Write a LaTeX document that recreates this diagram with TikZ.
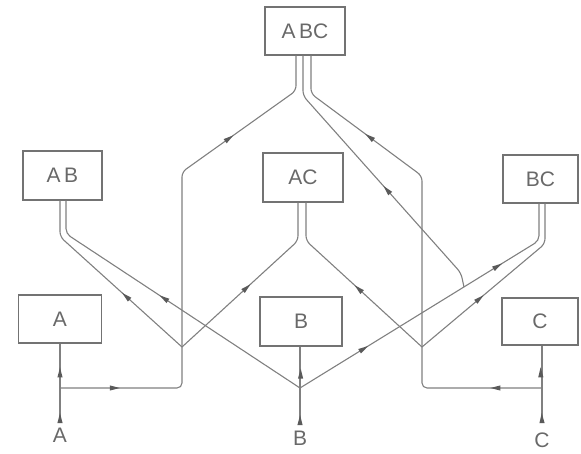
\documentclass[tikz,border=0pt]{standalone}
\usepackage{fontspec}
\setmainfont{Liberation Sans}
\usetikzlibrary{calc}
\definecolor{ink}{RGB}{128,128,128}
\definecolor{tipc}{RGB}{90,90,90}
\definecolor{boxc}{RGB}{115,115,115}
\definecolor{txt}{RGB}{105,105,105}
\newcommand\tipat[3]{%
  \coordinate (tipT) at ($(#1)!#3!(#2)$);
  \coordinate (tipB) at ($(tipT)!10pt!(#1)$);
  \fill[tipc] (tipT) -- ($(tipB)!2.6pt!90:(tipT)$) -- ($(tipB)!2.6pt!-90:(tipT)$) -- cycle;}
\begin{document}
\begin{tikzpicture}[x=1pt,y=-1pt,
  box/.style={draw=boxc,line width=1.4pt,inner sep=0pt,text=txt,font=\fontsize{21}{21}\selectfont},
  wire/.style={draw=ink,line width=1.1pt,rounded corners=5pt},
  lbl/.style={text=txt,font=\fontsize{21}{21}\selectfont,inner sep=0pt}]
\useasboundingbox (0,0) rectangle (581,454);
% boxes
\node[box,minimum width=80pt,minimum height=48pt] (ABC) at (305,31) {A\,BC};
\node[box,minimum width=79pt,minimum height=49pt] (AB) at (62.5,175.5) {A\,B};
\node[box,minimum width=80pt,minimum height=49pt] (AC) at (303,177.5) {AC};
\node[box,minimum width=75pt,minimum height=48pt] (BC) at (540.5,179) {BC};
\node[box,minimum width=83pt,minimum height=48pt] (A) at (60,319) {A};
\node[box,minimum width=82pt,minimum height=49pt] (B) at (301,321.5) {B};
\node[box,minimum width=76pt,minimum height=47pt] (C) at (540,321.5) {C};
% input labels
\node[lbl] (la) at (60,435) {A};
\node[lbl] (lb) at (300,438) {B};
\node[lbl] (lc) at (542,440) {C};
% coordinates
\coordinate (inA) at (60,423);
\coordinate (inB) at (300,425);
\coordinate (inC) at (542,423);
\coordinate (bA) at (60,388);
\coordinate (bC) at (542,388);
\coordinate (cA) at (182,388);
\coordinate (cC) at (422,388);
\coordinate (jA) at (182,347);
\coordinate (jB) at (300,388);
\coordinate (jC) at (422,347);
\coordinate (tA) at (182,172);
\coordinate (tC) at (422,176);
\coordinate (abcL) at ($(ABC.south)+(-9,0)$);
\coordinate (abcM) at ($(ABC.south)+(-2,0)$);
\coordinate (abcR) at ($(ABC.south)+(6,0)$);
\coordinate (abcLb) at ($(abcL)+(0,35)$);
\coordinate (abcMb) at ($(abcM)+(0,40)$);
\coordinate (abcRb) at ($(abcR)+(0,38)$);
\coordinate (abL) at ($(AB.south)+(-2.5,0)$);
\coordinate (abR) at ($(AB.south)+(3.5,0)$);
\coordinate (abLb) at ($(abL)+(0,36)$);
\coordinate (abRb) at ($(abR)+(0,33)$);
\coordinate (acL) at ($(AC.south)+(-5,0)$);
\coordinate (acR) at ($(AC.south)+(3,0)$);
\coordinate (acLb) at ($(acL)+(0,38)$);
\coordinate (acRb) at ($(acR)+(0,38)$);
\coordinate (bcL) at ($(BC.south)+(-1.5,0)$);
\coordinate (bcR) at ($(BC.south)+(4.5,0)$);
\coordinate (bcLb) at ($(bcL)+(0,37)$);
\coordinate (bcRb) at ($(bcR)+(0,40)$);
\coordinate (jM) at ($(jB)!0.686!(bcLb)$);
\coordinate (mk) at (461,273);
% wires
\draw[wire] (inA) -- (inA |- A.south);
\draw[wire] (inB) -- (inB |- B.south);
\draw[wire] (inC) -- (inC |- C.south);
\draw[wire] (bA) -- (cA) -- (tA) -- (abcLb) -- (abcL);
\draw[wire] (bC) -- (cC) -- (tC) -- (abcRb) -- (abcR);
\draw[wire] (jM) -- (mk) -- (abcMb) -- (abcM);
\draw[wire] (jA) -- (abLb) -- (abL);
\draw[wire] (jB) -- (abRb) -- (abR);
\draw[wire] (jA) -- (acLb) -- (acL);
\draw[wire] (jC) -- (acRb) -- (acR);
\draw[wire] (jB) -- (bcLb) -- (bcL);
\draw[wire] (jC) -- (bcRb) -- (bcR);
% arrowheads
\tipat{inA}{A.south}{0.125}
\tipat{inA}{A.south}{0.7}
\tipat{inB}{B.south}{0.127}
\tipat{inB}{B.south}{0.72}
\tipat{inC}{C.south}{0.128}
\tipat{inC}{C.south}{0.72}
\tipat{bA}{cA}{0.49}
\tipat{bC}{cC}{0.43}
\tipat{tA}{abcLb}{0.45}
\tipat{jA}{abLb}{0.49}
\tipat{jB}{abRb}{0.6}
\tipat{jA}{acLb}{0.59}
\tipat{jC}{acRb}{0.58}
\tipat{jB}{bcLb}{0.285}
\tipat{jB}{bcLb}{0.845}
\tipat{jC}{bcRb}{0.5}
\tipat{mk}{abcMb}{0.49}
\tipat{tC}{abcRb}{0.51}
\end{tikzpicture}
\end{document}
